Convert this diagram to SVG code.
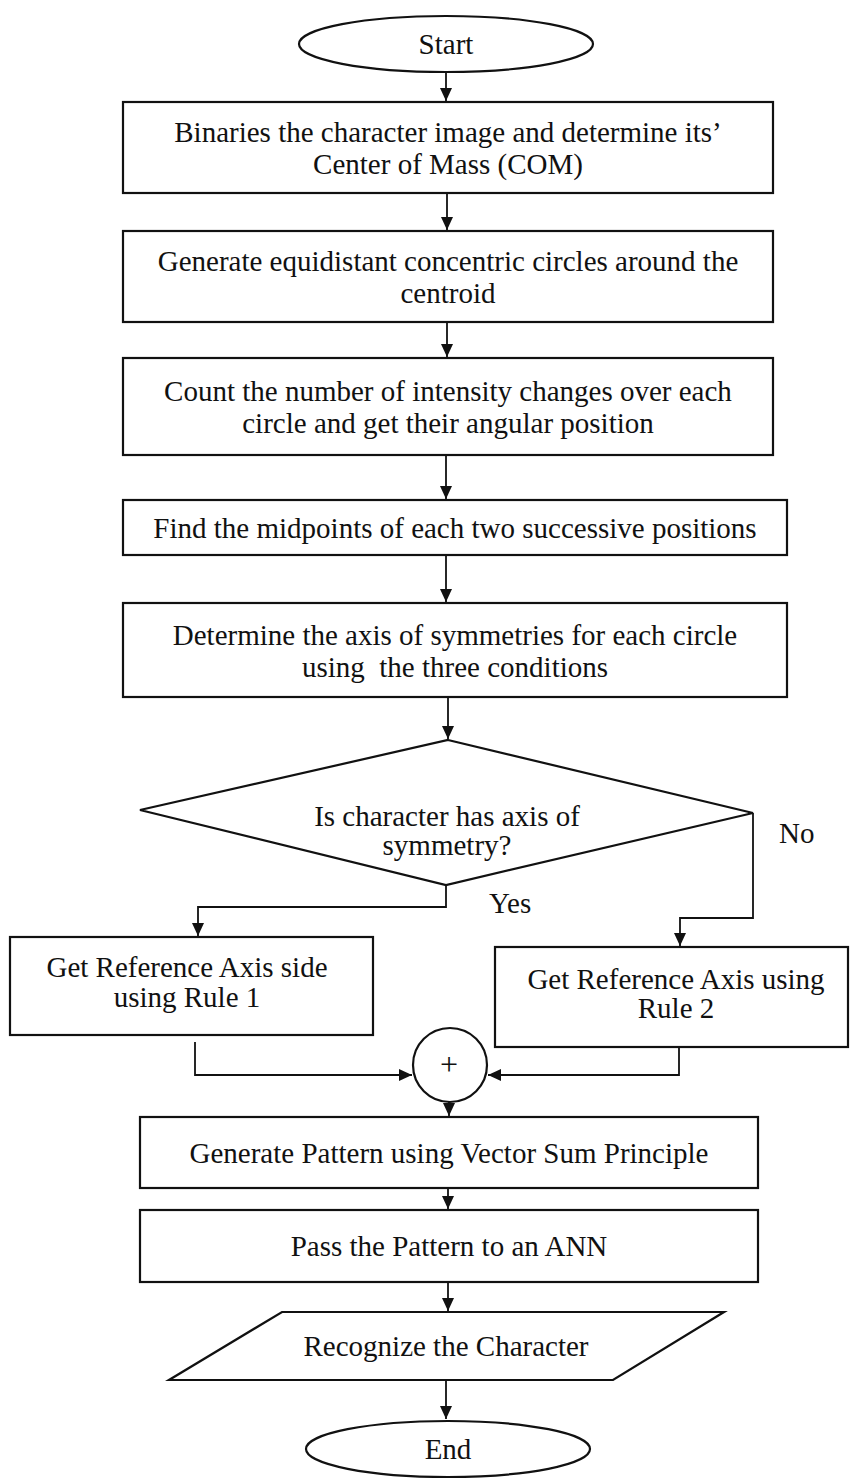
<svg xmlns="http://www.w3.org/2000/svg" width="853" height="1479" viewBox="0 0 853 1479">
<style>
.shape{fill:#fff;stroke:#111;stroke-width:2.2}
.conn{fill:none;stroke:#111;stroke-width:1.8}
text{font-family:"Liberation Serif","Times New Roman",serif;font-size:29px;fill:#111;text-anchor:middle}
text.l{text-anchor:start}
text.pre{white-space:pre}
</style>
<defs>
<marker id="ah" markerUnits="userSpaceOnUse" markerWidth="14" markerHeight="14" refX="13" refY="6" orient="auto">
<path d="M0,0 L13,6 L0,12 z" fill="#111"/>
</marker>
</defs>
<rect width="853" height="1479" fill="#fff"/>
<g id="connectors">
<line class="conn" x1="446" y1="72" x2="446" y2="101" marker-end="url(#ah)"/>
<line class="conn" x1="447" y1="193" x2="447" y2="230" marker-end="url(#ah)"/>
<line class="conn" x1="447" y1="322" x2="447" y2="357" marker-end="url(#ah)"/>
<line class="conn" x1="446" y1="455" x2="446" y2="499" marker-end="url(#ah)"/>
<line class="conn" x1="446" y1="555" x2="446" y2="602" marker-end="url(#ah)"/>
<line class="conn" x1="448" y1="697" x2="448" y2="739" marker-end="url(#ah)"/>
<polyline class="conn" points="446,885 446,907 198,907 198,936" marker-end="url(#ah)"/>
<polyline class="conn" points="753,813 753,918 680,918 680,946" marker-end="url(#ah)"/>
<polyline class="conn" points="195,1042 195,1075 412,1075" marker-end="url(#ah)"/>
<polyline class="conn" points="679,1047 679,1075 488,1075" marker-end="url(#ah)"/>
<line class="conn" x1="449" y1="1102" x2="449" y2="1116" marker-end="url(#ah)"/>
<line class="conn" x1="448" y1="1188" x2="448" y2="1209" marker-end="url(#ah)"/>
<line class="conn" x1="448" y1="1282" x2="448" y2="1311" marker-end="url(#ah)"/>
<line class="conn" x1="446" y1="1380" x2="446" y2="1419" marker-end="url(#ah)"/>
</g>
<g id="start">
<ellipse class="shape" cx="446" cy="44" rx="147" ry="28"/>
<text x="446" y="54">Start</text>
</g>
<g id="binarize">
<rect class="shape" x="123" y="102" width="650" height="91"/>
<text x="448" y="142">Binaries the character image and determine its’</text>
<text x="448" y="174">Center of Mass (COM)</text>
</g>
<g id="circles">
<rect class="shape" x="123" y="231" width="650" height="91"/>
<text x="448" y="271">Generate equidistant concentric circles around the</text>
<text x="448" y="303">centroid</text>
</g>
<g id="count">
<rect class="shape" x="123" y="358" width="650" height="97"/>
<text x="448" y="401">Count the number of intensity changes over each</text>
<text x="448" y="433">circle and get their angular position</text>
</g>
<g id="midpoints">
<rect class="shape" x="123" y="500" width="664" height="55"/>
<text x="455" y="538">Find the midpoints of each two successive positions</text>
</g>
<g id="axis">
<rect class="shape" x="123" y="603" width="664" height="94"/>
<text x="455" y="645">Determine the axis of symmetries for each circle</text>
<text class="pre" x="455" y="677">using  the three conditions</text>
</g>
<g id="decision">
<polygon class="shape" points="448,740 753,813 446,885 140,810"/>
<text x="447" y="826">Is character has axis of</text>
<text x="447" y="855">symmetry?</text>
<text class="l" x="489" y="913">Yes</text>
<text class="l" x="779" y="843">No</text>
</g>
<g id="rule1">
<rect class="shape" x="10" y="937" width="363" height="98"/>
<text x="187" y="977">Get Reference Axis side</text>
<text x="187" y="1007">using Rule 1</text>
</g>
<g id="rule2">
<rect class="shape" x="495" y="947" width="353" height="100"/>
<text x="676" y="989">Get Reference Axis using</text>
<text x="676" y="1018">Rule 2</text>
</g>
<g id="sum">
<circle class="shape" cx="450" cy="1065" r="37"/>
<text x="449" y="1075" style="font-size:32px">+</text>
</g>
<g id="pattern">
<rect class="shape" x="140" y="1117" width="618" height="71"/>
<text x="449" y="1163">Generate Pattern using Vector Sum Principle</text>
</g>
<g id="ann">
<rect class="shape" x="140" y="1210" width="618" height="72"/>
<text x="449" y="1256">Pass the Pattern to an ANN</text>
</g>
<g id="recognize">
<polygon class="shape" points="282,1312 724,1312 613,1380 169,1380"/>
<text x="446" y="1356">Recognize the Character</text>
</g>
<g id="end">
<ellipse class="shape" cx="448" cy="1449" rx="142" ry="28"/>
<text x="448" y="1459">End</text>
</g>
</svg>
